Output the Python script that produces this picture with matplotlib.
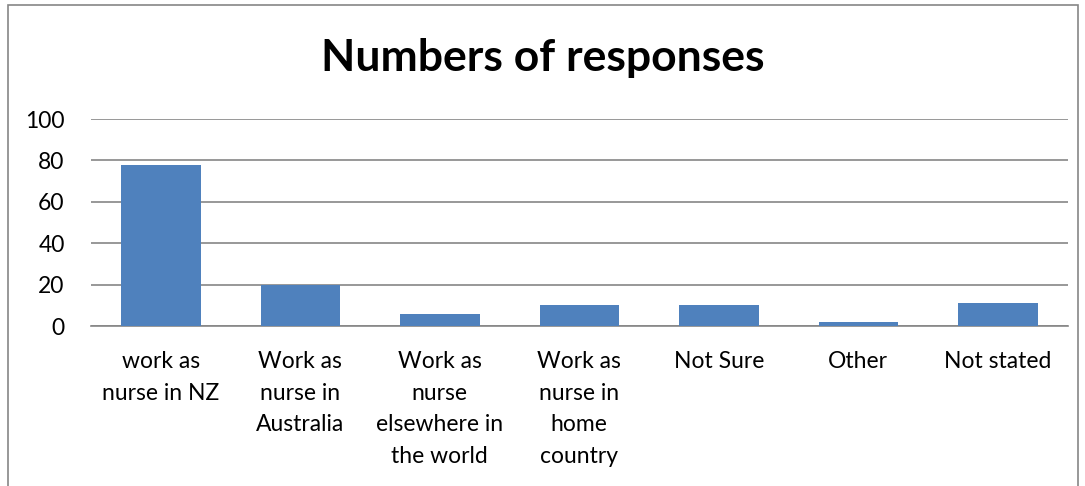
import matplotlib.pyplot as plt
from matplotlib.patches import Rectangle

categories = [
    "work as\nnurse in NZ",
    "Work as\nnurse in\nAustralia",
    "Work as\nnurse\nelsewhere in\nthe world",
    "Work as\nnurse in\nhome\ncountry",
    "Not Sure",
    "Other",
    "Not stated",
]
responses = [78, 20, 6, 10, 10, 2, 11]
y_ticks = [0, 20, 40, 60, 80, 100]

plt.rcParams["font.family"] = ["Lato", "DejaVu Sans"]

fig = plt.figure(figsize=(10.85, 4.86), dpi=100)
ax = fig.add_axes([0.0839, 0.329, 0.9, 0.426])

x = range(len(categories))
ax.bar(x, responses, width=0.57, color="#4F81BD", zorder=3)

ax.set_xlim(-0.5, len(categories) - 0.5)
ax.set_ylim(0, 100)
ax.set_yticks(y_ticks)
ax.set_xticks(list(x))
ax.set_xticklabels(categories, fontsize=16.5, linespacing=1.62, va="top")
ax.tick_params(axis="y", labelsize=16.5, length=0, pad=19)
ax.tick_params(axis="x", length=0, pad=18)
ax.grid(axis="y", color="#868686", linewidth=1.2, zorder=0)

for side in ["top", "right", "left"]:
    ax.spines[side].set_visible(False)
ax.spines["bottom"].set_color("#868686")
ax.spines["bottom"].set_linewidth(1.2)

fig.text(0.5, 1 - 58 / 486, "Numbers of responses", ha="center", va="center",
         fontsize=32, fontweight="bold")

# chart frame, bottom edge runs off the image
fig.patches.append(Rectangle((8 / 1085, -0.05), 1070 / 1085, 1 - 5 / 486 + 0.05,
                             transform=fig.transFigure, fill=False,
                             edgecolor="#868686", linewidth=1.2))

fig.savefig("out.png", dpi=100)
